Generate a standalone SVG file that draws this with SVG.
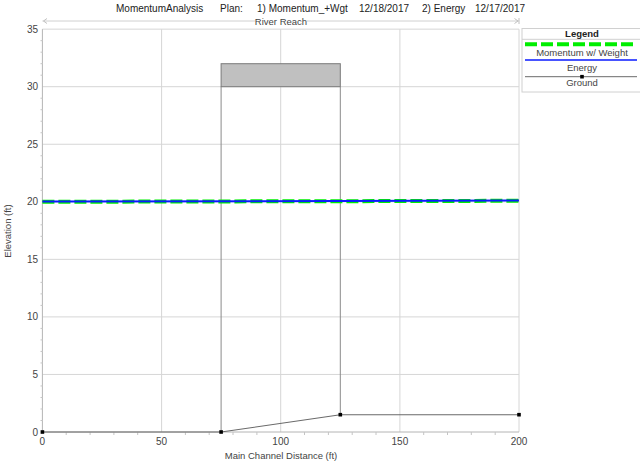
<svg xmlns="http://www.w3.org/2000/svg" width="640" height="461" viewBox="0 0 640 461">
<style>
text{font-family:"Liberation Sans",Arial,sans-serif;}
.title{font-size:10px;fill:#222;}
.tick{font-size:10px;fill:#444;}
.axlab{font-size:9.5px;fill:#444;}
.grid{stroke:#d6d6d6;stroke-width:1;fill:none;}
.axis{stroke:#b4b4b4;stroke-width:1;fill:none;}
.minor{stroke:#c4c4c4;stroke-width:1;fill:none;}
.leg{font-size:9.5px;fill:#444;text-anchor:middle;}
.ground{stroke:#6a6a6a;stroke-width:1.1;fill:none;}
.pier{stroke:#8a8a8a;stroke-width:1;fill:none;}
.mom{stroke:#00ee00;stroke-width:4;stroke-dasharray:12 4;fill:none;}
.en{stroke:#0a1aff;stroke-width:2;fill:none;}
</style>
<defs>
<rect id="mk" x="-1.8" y="-1.8" width="3.6" height="3.6" fill="#000"/>
</defs>
<rect x="0" y="0" width="640" height="461" fill="#fff"/>
<g id="title">
<text class="title" x="116" y="11.5">MomentumAnalysis</text>
<text class="title" x="220" y="11.5">Plan:</text>
<text class="title" x="257" y="11.5">1) Momentum_+Wgt</text>
<text class="title" x="359" y="11.5">12/18/2017</text>
<text class="title" x="422" y="11.5">2) Energy</text>
<text class="title" x="475" y="11.5">12/17/2017</text>
</g>
<g id="river-reach">
<path d="M42.4 21H255 M307 21H519" stroke="#d0d0d0" stroke-width="1" fill="none"/>
<path d="M47 18.5L43.5 21L47 23.5 M514.5 18.5L518 21L514.5 23.5 M519 18V24" stroke="#c0c0c0" stroke-width="1" fill="none"/>
<text x="281" y="24.5" font-size="9.5" fill="#444" text-anchor="middle">River Reach</text>
</g>
<g id="grid">
<path class="grid" d="M42.4 29.15H519 M42.4 86.7H519 M42.4 144.25H519 M42.4 201.8H519 M42.4 259.35H519 M42.4 316.9H519 M42.4 374.45H519 M161.6 29.15V432 M280.7 29.15V432 M399.9 29.15V432 M519 29.15V432"/>
<path class="axis" d="M42.4 29.15V432.5 M42.4 432H519"/>
<path class="minor" d="M40.5 420.49h2.5M40.5 408.98h2.5M40.5 397.47h2.5M40.5 385.96h2.5M40.5 362.94h2.5M40.5 351.43h2.5M40.5 339.92h2.5M40.5 328.41h2.5M40.5 305.39h2.5M40.5 293.88h2.5M40.5 282.37h2.5M40.5 270.86h2.5M40.5 247.84h2.5M40.5 236.33h2.5M40.5 224.82h2.5M40.5 213.31h2.5M40.5 190.29h2.5M40.5 178.78h2.5M40.5 167.27h2.5M40.5 155.76h2.5M40.5 132.74h2.5M40.5 121.23h2.5M40.5 109.72h2.5M40.5 98.21h2.5M40.5 75.19h2.5M40.5 63.68h2.5M40.5 52.17h2.5M40.5 40.66h2.5"/>
<path class="minor" d="M66.2 432v3M90.1 432v3M113.9 432v3M137.7 432v3M185.4 432v3M209.2 432v3M233 432v3M256.9 432v3M304.5 432v3M328.4 432v3M352.2 432v3M376 432v3M423.7 432v3M447.5 432v3M471.3 432v3M495.2 432v3"/>
</g>
<g id="y-labels">
<text class="tick" x="38" y="32.7" text-anchor="end">35</text>
<text class="tick" x="38" y="90.2" text-anchor="end">30</text>
<text class="tick" x="38" y="147.8" text-anchor="end">25</text>
<text class="tick" x="38" y="205.3" text-anchor="end">20</text>
<text class="tick" x="38" y="262.9" text-anchor="end">15</text>
<text class="tick" x="38" y="320.4" text-anchor="end">10</text>
<text class="tick" x="38" y="378" text-anchor="end">5</text>
<text class="tick" x="38" y="435.5" text-anchor="end">0</text>
</g>
<g id="x-labels">
<text class="tick" x="42.4" y="445" text-anchor="middle">0</text>
<text class="tick" x="161.6" y="445" text-anchor="middle">50</text>
<text class="tick" x="280.7" y="445" text-anchor="middle">100</text>
<text class="tick" x="399.9" y="445" text-anchor="middle">150</text>
<text class="tick" x="519" y="445" text-anchor="middle">200</text>
</g>
<text class="axlab" x="281" y="458.5" text-anchor="middle">Main Channel Distance (ft)</text>
<text class="axlab" transform="translate(11,231) rotate(-90)" text-anchor="middle">Elevation (ft)</text>
<g id="bridge">
<rect x="221.1" y="63.7" width="119.2" height="23" fill="#c0c0c0" stroke="#7a7a7a" stroke-width="1"/>
<path class="pier" d="M221.1 86.7V432 M340.3 86.7V414.7"/>
</g>
<g id="connectors">
<g id="ground">
<polyline class="ground" points="42.4,432 221.1,432 340.3,414.7 519,414.7"/>
<use href="#mk" x="42.4" y="432"/>
<use href="#mk" x="221.1" y="432"/>
<use href="#mk" x="340.3" y="414.7"/>
<use href="#mk" x="519" y="414.7"/>
</g>
<line id="momentum" class="mom" x1="42.4" y1="201.8" x2="519" y2="200.8"/>
<line id="energy" class="en" x1="42.4" y1="201.6" x2="519" y2="200.6"/>
</g>
<g id="legend">
<rect x="522" y="28.5" width="122" height="63.5" fill="#fff" stroke="#d0d0d0" stroke-width="1"/>
<line x1="522" y1="39.3" x2="644" y2="39.3" stroke="#d0d0d0" stroke-width="1"/>
<text x="582" y="37" font-size="9.5" font-weight="bold" fill="#222" text-anchor="middle">Legend</text>
<line class="mom" x1="525" y1="44.3" x2="634" y2="44.3"/>
<text class="leg" x="582" y="55.5">Momentum w/ Weight</text>
<line x1="525" y1="60" x2="637" y2="60" stroke="#0a1aff" stroke-width="1.5"/>
<text class="leg" x="582" y="70.5">Energy</text>
<line x1="525" y1="76.7" x2="637" y2="76.7" stroke="#6a6a6a" stroke-width="1"/>
<use href="#mk" x="582" y="76.7"/>
<text class="leg" x="582" y="86">Ground</text>
</g>
</svg>
